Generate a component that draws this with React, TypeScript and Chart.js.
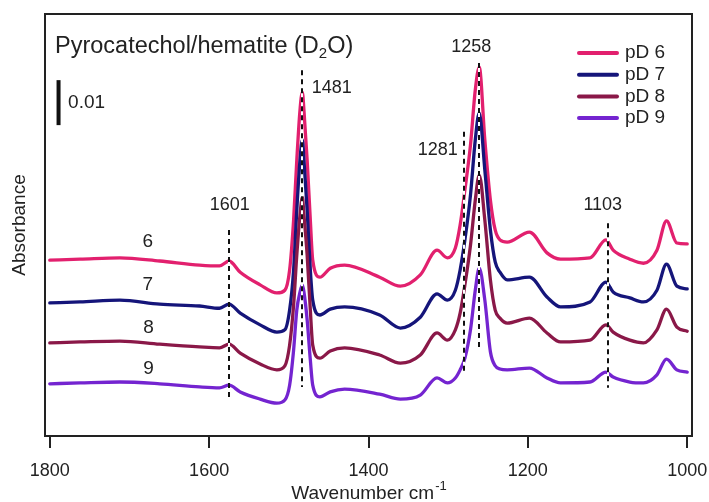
import React, { useEffect, useRef } from 'react';
import { Chart, registerables } from 'chart.js';

Chart.register(...registerables);

// Wavenumber grid (cm-1)
const wavenumbers = [
  1800, 1762, 1712, 1662, 1612, 1587, 1575, 1561, 1536, 1515,
  1505, 1499, 1494, 1490, 1486, 1483, 1481, 1477, 1473, 1470,
  1461, 1448, 1430, 1386, 1360, 1335, 1314, 1301, 1291, 1285,
  1279, 1272, 1266, 1261, 1254, 1247, 1241, 1235, 1226, 1198,
  1176, 1159, 1122, 1102, 1093, 1072, 1055, 1038, 1026, 1013,
  1000,
];

// Absorbance (offset spectra)
const pD6 = [
  0.0391, 0.0393, 0.0396, 0.0389, 0.0380, 0.0378, 0.0389, 0.0364, 0.0336, 0.0318,
  0.0324, 0.0369, 0.0480, 0.0613, 0.0724, 0.0764, 0.0724, 0.0613, 0.0480, 0.0391,
  0.0353, 0.0373, 0.0380, 0.0353, 0.0333, 0.0358, 0.0413, 0.0396, 0.0418, 0.0469,
  0.0547, 0.0647, 0.0769, 0.0820, 0.0658, 0.0524, 0.0458, 0.0436, 0.0431, 0.0453,
  0.0407, 0.0393, 0.0396, 0.0436, 0.0413, 0.0393, 0.0384, 0.0413, 0.0478, 0.0429,
  0.0427,
];
const pD7 = [
  0.0296, 0.0298, 0.0302, 0.0293, 0.0289, 0.0284, 0.0293, 0.0273, 0.0247, 0.0231,
  0.0236, 0.0280, 0.0369, 0.0502, 0.0613, 0.0658, 0.0613, 0.0502, 0.0369, 0.0302,
  0.0269, 0.0282, 0.0287, 0.0269, 0.0240, 0.0264, 0.0316, 0.0302, 0.0324, 0.0369,
  0.0436, 0.0536, 0.0658, 0.0718, 0.0591, 0.0458, 0.0387, 0.0364, 0.0347, 0.0353,
  0.0309, 0.0287, 0.0298, 0.0342, 0.0320, 0.0307, 0.0298, 0.0324, 0.0382, 0.0333,
  0.0327,
];
const pD8 = [
  0.0207, 0.0209, 0.0211, 0.0204, 0.0198, 0.0196, 0.0204, 0.0184, 0.0160, 0.0147,
  0.0156, 0.0202, 0.0291, 0.0402, 0.0491, 0.0531, 0.0491, 0.0402, 0.0280, 0.0202,
  0.0173, 0.0189, 0.0196, 0.0180, 0.0162, 0.0180, 0.0229, 0.0213, 0.0236, 0.0273,
  0.0336, 0.0424, 0.0524, 0.0580, 0.0480, 0.0347, 0.0280, 0.0262, 0.0251, 0.0262,
  0.0229, 0.0209, 0.0213, 0.0247, 0.0231, 0.0213, 0.0207, 0.0236, 0.0282, 0.0242,
  0.0233,
];
const pD9 = [
  0.0116, 0.0118, 0.0120, 0.0116, 0.0109, 0.0107, 0.0113, 0.0098, 0.0082, 0.0073,
  0.0080, 0.0113, 0.0191, 0.0280, 0.0320, 0.0336, 0.0320, 0.0258, 0.0169, 0.0113,
  0.0087, 0.0098, 0.0104, 0.0093, 0.0082, 0.0091, 0.0129, 0.0118, 0.0129, 0.0147,
  0.0173, 0.0236, 0.0324, 0.0373, 0.0302, 0.0187, 0.0156, 0.0149, 0.0147, 0.0151,
  0.0129, 0.0118, 0.0120, 0.0142, 0.0131, 0.0120, 0.0118, 0.0136, 0.0171, 0.0147,
  0.0142,
];

const seriesNames = ['pD 6', 'pD 7', 'pD 8', 'pD 9'];
const seriesColors = ['#E2206E', '#15157A', '#8A1848', '#7424D0'];
const seriesValues = [pD6, pD7, pD8, pD9];

// Curve labels on the left
const curveLabels = ['6', '7', '8', '9'];
const curveLabelWn = [1677, 1677, 1676, 1676];
const curveLabelAbs = [0.0431, 0.0336, 0.0240, 0.0149];

// Axis ticks
const xTicks = [1800, 1600, 1400, 1200, 1000];
const xMin = 994;
const xMax = 1806;
const yMin = 0;
const yMax = 0.0938;

// Peak marker dashed lines
const markerWn = [1575, 1483, 1280, 1261, 1100];
const markerTop = [0.0458, 0.0813, 0.0676, 0.0829, 0.0473];
const markerBottom = [0.0080, 0.0109, 0.0136, 0.0198, 0.0107];

// Peak labels
const peakTexts = ['1601', '1481', '1281', '1258', '1103'];
const peakTextWn = [1574, 1446, 1313, 1271, 1106];
const peakTextAbs = [0.0513, 0.0773, 0.0636, 0.0864, 0.0513];

// Scale bar
const scaleBarWn = 1789;
const scaleBarTop = 0.0791;
const scaleBarSize = 0.01;
const scaleBarLabel = '0.01';
const scaleBarLabelWn = 1777;

const FONT = '"Liberation Sans", Arial, sans-serif';
const TEXT = '#222';

const annotationPlugin = {
  id: 'annotations',
  afterDatasetsDraw(chart: any) {
    const { ctx, chartArea: ca } = chart;
    const x = chart.scales.x;
    const y = chart.scales.y;
    ctx.save();

    // dashed marker lines
    markerWn.forEach((wn, i) => {
      const px = Math.round(x.getPixelForValue(wn));
      const y1 = y.getPixelForValue(markerTop[i]);
      const y2 = y.getPixelForValue(markerBottom[i]);
      ctx.lineWidth = 2;
      ctx.setLineDash([]);
      ctx.strokeStyle = '#fff';
      ctx.beginPath();
      ctx.moveTo(px, y1);
      ctx.lineTo(px, y2);
      ctx.stroke();
      ctx.setLineDash([5, 4]);
      ctx.strokeStyle = '#111';
      ctx.beginPath();
      ctx.moveTo(px, y1);
      ctx.lineTo(px, y2);
      ctx.stroke();
    });
    ctx.setLineDash([]);

    // frame
    ctx.strokeStyle = '#222';
    ctx.lineWidth = 2;
    ctx.strokeRect(ca.left, ca.top, ca.right - ca.left, ca.bottom - ca.top);

    ctx.fillStyle = TEXT;
    ctx.textBaseline = 'middle';
    ctx.textAlign = 'center';
    ctx.font = `18px ${FONT}`;
    peakTexts.forEach((t, i) => {
      ctx.fillText(t, x.getPixelForValue(peakTextWn[i]), y.getPixelForValue(peakTextAbs[i]));
    });
    ctx.font = `19px ${FONT}`;
    curveLabels.forEach((t, i) => {
      ctx.fillText(t, x.getPixelForValue(curveLabelWn[i]), y.getPixelForValue(curveLabelAbs[i]));
    });

    // scale bar
    const sbx = x.getPixelForValue(scaleBarWn);
    const sbTop = y.getPixelForValue(scaleBarTop);
    const sbBot = y.getPixelForValue(scaleBarTop - scaleBarSize);
    ctx.strokeStyle = '#111';
    ctx.lineWidth = 4;
    ctx.beginPath();
    ctx.moveTo(sbx, sbTop);
    ctx.lineTo(sbx, sbBot);
    ctx.stroke();
    ctx.textAlign = 'left';
    ctx.font = `19px ${FONT}`;
    ctx.fillText(scaleBarLabel, x.getPixelForValue(scaleBarLabelWn), (sbTop + sbBot) / 2);

    // title with subscript
    ctx.textBaseline = 'alphabetic';
    let tx = ca.left + 10;
    const ty = ca.top + 39;
    ctx.font = `23.5px ${FONT}`;
    const p1 = 'Pyrocatechol/hematite (D';
    ctx.fillText(p1, tx, ty);
    tx += ctx.measureText(p1).width;
    ctx.font = `15px ${FONT}`;
    ctx.fillText('2', tx, ty + 5);
    tx += ctx.measureText('2').width;
    ctx.font = `23.5px ${FONT}`;
    ctx.fillText('O)', tx, ty);

    // legend
    ctx.textBaseline = 'middle';
    ctx.font = `19px ${FONT}`;
    seriesNames.forEach((name, i) => {
      const ly = ca.top + 39 + i * 21.7;
      ctx.strokeStyle = seriesColors[i];
      ctx.lineWidth = 4;
      ctx.lineCap = 'round';
      ctx.beginPath();
      ctx.moveTo(ca.right - 113, ly);
      ctx.lineTo(ca.right - 75, ly);
      ctx.stroke();
      ctx.fillStyle = TEXT;
      ctx.fillText(name, ca.right - 67, ly);
    });

    ctx.restore();
  },
  afterDraw(chart: any) {
    const { ctx, chartArea: ca } = chart;
    ctx.save();
    ctx.fillStyle = TEXT;
    // y title
    ctx.translate(20, (ca.top + ca.bottom) / 2);
    ctx.rotate(-Math.PI / 2);
    ctx.textAlign = 'center';
    ctx.textBaseline = 'middle';
    ctx.font = `19px ${FONT}`;
    ctx.fillText('Absorbance', 0, 0);
    ctx.restore();

    // x title with superscript
    ctx.save();
    ctx.fillStyle = TEXT;
    ctx.textBaseline = 'alphabetic';
    ctx.textAlign = 'left';
    const main = 'Wavenumber cm';
    const sup = '-1';
    ctx.font = `19px ${FONT}`;
    const w1 = ctx.measureText(main).width;
    ctx.font = `13px ${FONT}`;
    const w2 = ctx.measureText(sup).width;
    const cx = (ca.left + ca.right) / 2;
    const sx = cx - (w1 + w2) / 2;
    ctx.font = `19px ${FONT}`;
    ctx.fillText(main, sx, 499);
    ctx.font = `13px ${FONT}`;
    ctx.fillText(sup, sx + w1 + 1, 490);
    ctx.restore();
  },
};

export default function App() {
  const canvasRef = useRef<HTMLCanvasElement | null>(null);

  useEffect(() => {
    const canvas = canvasRef.current;
    if (!canvas) return;
    const datasets = seriesNames.map((name, i) => ({
      label: name,
      data: wavenumbers.map((wn, k) => ({ x: wn, y: seriesValues[i][k] })),
      borderColor: seriesColors[i],
      backgroundColor: seriesColors[i],
      borderWidth: 3.3,
      pointRadius: 0,
      cubicInterpolationMode: 'monotone' as const,
      borderJoinStyle: 'round' as const,
      borderCapStyle: 'round' as const,
      order: seriesNames.length - i,
    }));
    const chart = new Chart(canvas, {
      type: 'line',
      data: { datasets },
      options: {
        animation: false,
        responsive: false,
        devicePixelRatio: 1,
        layout: { padding: { left: 45, top: 14, right: 17, bottom: 0 } },
        plugins: {
          legend: { display: false },
          tooltip: { enabled: false },
          title: { display: false },
        },
        scales: {
          x: {
            type: 'linear',
            min: xMin,
            max: xMax,
            reverse: true,
            afterBuildTicks: (scale: any) => {
              scale.ticks = xTicks.map((v) => ({ value: v }));
            },
            afterFit: (scale: any) => {
              scale.height = 66;
              scale.paddingLeft = 0;
              scale.paddingRight = 0;
            },
            border: { display: false },
            grid: {
              display: true,
              drawOnChartArea: false,
              drawTicks: true,
              tickLength: 12,
              lineWidth: 2,
              color: '#222',
            },
            ticks: {
              color: TEXT,
              font: { family: FONT, size: 18 },
              padding: 12,
              maxRotation: 0,
              autoSkip: false,
              callback: (v: any) => String(v),
            },
          },
          y: {
            display: false,
            min: yMin,
            max: yMax,
          },
        },
      },
      plugins: [annotationPlugin],
    });
    return () => chart.destroy();
  }, []);

  return (
    <div style={{ position: 'fixed', left: 0, top: 0, width: 709, height: 502, background: '#fff' }}>
      <canvas ref={canvasRef} width={709} height={502} style={{ display: 'block', width: 709, height: 502 }} />
    </div>
  );
}
